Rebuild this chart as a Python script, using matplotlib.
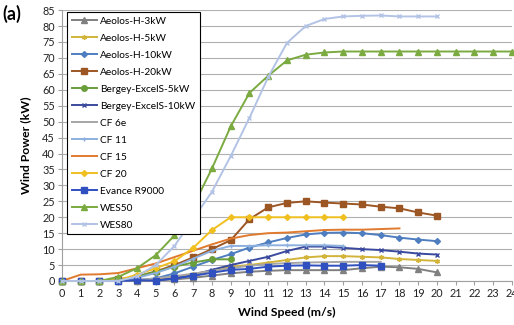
import matplotlib
matplotlib.use('Agg')
import matplotlib.pyplot as plt

plt.rcParams['font.family'] = ['Lato', 'DejaVu Sans']

# wind speed (m/s)
ws = list(range(25))

# power curves (kW)
aeolos3 = [0, 0, 0, 0, 0.1, 0.2, 0.5, 1.0, 1.7, 2.4, 2.9, 3.2, 3.4, 3.4, 3.4, 3.4, 4.0, 4.5, 4.3, 3.8, 2.7]
aeolos5 = [0, 0, 0, 0, 0.2, 0.5, 1.1, 2.2, 3.2, 4.5, 5.0, 5.8, 6.6, 7.4, 7.8, 7.8, 7.6, 7.4, 6.9, 6.6, 6.3]
aeolos10 = [0, 0, 0, 0, 0.3, 0.8, 2.4, 4.5, 6.6, 8.4, 10.5, 12.1, 13.5, 14.6, 15.1, 15.2, 15.0, 14.4, 13.6, 13.0, 12.5]
aeolos20 = [0, 0, 0, 0.5, 1.4, 3.0, 5.0, 7.4, 10.0, 12.8, 19.4, 23.1, 24.5, 25.0, 24.6, 24.3, 24.0, 23.3, 22.8, 21.5, 20.5]
bergey5 = [0, 0, 0, 0.3, 1.4, 2.9, 4.5, 5.8, 6.8, 6.8]
bergey10 = [0, 0, 0, 0, 0.2, 0.3, 0.8, 1.9, 3.5, 5.0, 6.3, 7.6, 9.4, 10.8, 10.8, 10.4, 10.0, 9.7, 9.2, 8.6, 8.3]
cf6e = [0, 0, 0, 0, 0.3, 0.8, 1.5, 2.3, 3.2, 4.0, 4.8, 5.3, 5.6, 5.8, 5.9, 6.0, 6.0, 6.0]
cf11 = [0, 0, 0, 0.2, 1.0, 2.5, 4.5, 7.0, 9.5, 11.0, 11.0, 11.2, 11.2, 11.2, 11.2, 11.0]
cf15 = [0, 2.0, 2.1, 2.5, 4.0, 5.5, 7.5, 9.5, 11.5, 13.3, 14.4, 15.0, 15.2, 15.6, 16.0, 16.1, 16.1, 16.3, 16.5]
cf20 = [0, 0, 0, 0.3, 2.0, 4.0, 6.2, 10.4, 16.0, 20, 20, 20, 20, 20, 20, 20]
evance = [0, 0, 0, 0, 0.3, 0.1, 0.8, 1.6, 2.6, 3.5, 3.8, 4.5, 4.8, 4.9, 4.8, 4.8, 5.0, 4.8]
wes50 = [0, 0, 0, 1.3, 4.0, 8.1, 14.3, 23.5, 35.3, 48.5, 59, 64.4, 69.2, 71, 71.7,
         72, 72, 72, 72, 72, 72, 72, 72, 72, 72]
wes80 = [0, 0, 0, 0, 1.5, 5, 11, 19.5, 28, 39.2, 51.2, 64, 74.7, 80, 82.2, 83, 83.2, 83.3, 83, 83, 83]

series = [
    ('Aeolos-H-3kW', aeolos3, '#808080', '^'),
    ('Aeolos-H-5kW', aeolos5, '#D2B43A', (6, 2, 0)),
    ('Aeolos-H-10kW', aeolos10, '#4F7EC0', 'D'),
    ('Aeolos-H-20kW', aeolos20, '#9C5623', 's'),
    ('Bergey-ExcelS-5kW', bergey5, '#6A9E3A', 'o'),
    ('Bergey-ExcelS-10kW', bergey10, '#3B4A9E', 'x'),
    ('CF 6e', cf6e, '#A6A6A6', None),
    ('CF 11', cf11, '#8DB0DE', '+'),
    ('CF 15', cf15, '#E07A2E', None),
    ('CF 20', cf20, '#F0C020', 'D'),
    ('Evance R9000', evance, '#3050C0', 's'),
    ('WES50', wes50, '#7AAA40', '^'),
    ('WES80', wes80, '#B3C3E5', 'x'),
]

fig = plt.figure(figsize=(5.14, 3.25), dpi=100)
ax = fig.add_axes([0.1206, 0.1354, 0.8754, 0.8336])

for name, vals, col, mk in series:
    ms = 4 if mk in ('s', '^', 'o') else 3.5
    if mk == 'D':
        ms = 3
    ax.plot(ws[:len(vals)], vals, color=col, lw=1.4, marker=mk, ms=ms,
            mew=1.0, label=name, clip_on=False, zorder=3)

ax.set_xlim(0, 24)
ax.set_ylim(0, 85)
ax.set_xticks(range(0, 25))
ax.set_yticks(range(0, 86, 5))
ax.yaxis.grid(True, color='#B0B0B0', lw=0.8)
ax.set_axisbelow(True)
for s in ('top', 'right'):
    ax.spines[s].set_visible(False)
for s in ('left', 'bottom'):
    ax.spines[s].set_color('#A0A0A0')
    ax.spines[s].set_linewidth(0.8)
ax.tick_params(axis='both', labelsize=7.8, colors='#A0A0A0', labelcolor='#222222',
               length=3, width=0.8, pad=2)

ax.set_xlabel('Wind Speed (m/s)', fontsize=8.8, fontweight='bold', labelpad=6)
ax.set_ylabel('Wind Power (kW)', fontsize=8.8, fontweight='bold', labelpad=8)

fig.text(0.004, 0.985, '(a)', fontsize=13, fontweight='bold', va='top', ha='left')

leg = ax.legend(loc='upper left', bbox_to_anchor=(67 / 514, 1 - 12 / 325),
                bbox_transform=fig.transFigure, borderaxespad=0,
                fontsize=7.3, handlelength=2.5, labelspacing=0.78,
                handletextpad=0.3, borderpad=0.45, fancybox=False,
                framealpha=1, edgecolor='black')
leg.get_frame().set_linewidth(0.8)
leg.set_zorder(5)

fig.savefig('out.png', dpi=100)
